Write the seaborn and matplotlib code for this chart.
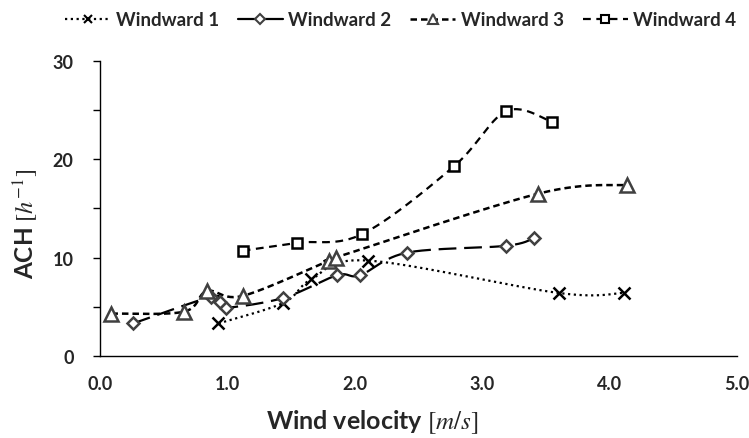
import numpy as np
import pandas as pd
import matplotlib
matplotlib.use("Agg")
import matplotlib.pyplot as plt
from matplotlib.lines import Line2D
from matplotlib.ticker import MultipleLocator
import seaborn as sns

# ---- data ----
w1_x = [0.93, 1.44, 1.66, 2.10, 3.60, 4.11]
w1_y = [3.3, 5.4, 7.8, 9.7, 6.4, 6.4]

w2_x = [0.26, 0.87, 0.94, 0.99, 1.44, 1.86, 2.04, 2.41, 3.19, 3.41]
w2_y = [3.3, 6.0, 5.5, 4.9, 5.9, 8.2, 8.2, 10.5, 11.2, 12.0]

w3_x = [0.09, 0.66, 0.84, 1.12, 1.80, 1.85, 3.44, 4.14]
w3_y = [4.3, 4.5, 6.6, 6.1, 9.7, 10.0, 16.5, 17.4]

w4_x = [1.12, 1.55, 2.06, 2.78, 3.19, 3.55]
w4_y = [10.7, 11.5, 12.4, 19.3, 24.9, 23.8]

series_names = ["Windward 1", "Windward 2", "Windward 3", "Windward 4"]
x_ticks = [0.0, 1.0, 2.0, 3.0, 4.0, 5.0]
y_ticks = [0, 10, 20, 30]

sns.set_theme(style="white")
plt.rcParams['font.family'] = ['Lato', 'DejaVu Sans']
plt.rcParams['mathtext.fontset'] = 'stix'


def smooth(xs, ys, n=30):
    """Excel-style smoothed line (cubic Bezier / Catmull-Rom) through points."""
    P = np.column_stack([xs, ys]).astype(float)
    m = len(P)
    out = []
    for i in range(m - 1):
        p0 = P[i - 1] if i > 0 else P[i]
        p1 = P[i]
        p2 = P[i + 1]
        p3 = P[i + 2] if i + 2 < m else P[i + 1]
        c1 = p1 + (p2 - p0) / 6.0
        c2 = p2 - (p3 - p1) / 6.0
        t = np.linspace(0, 1, n)[:, None]
        seg = ((1 - t) ** 3) * p1 + 3 * ((1 - t) ** 2) * t * c1 + 3 * (1 - t) * t ** 2 * c2 + t ** 3 * p2
        out.append(seg if i == 0 else seg[1:])
    s = np.vstack(out)
    return s[:, 0], s[:, 1]


fig, ax = plt.subplots(figsize=(7.49, 4.39), dpi=100)
fig.subplots_adjust(left=0.1335, right=0.984, bottom=0.187, top=0.859)

mk_edge = "#404040"
styles = [
    dict(x=w1_x, y=w1_y, ls=(0, (1, 1.6)), marker="x", ms=8, mec="black", lw=1.6),
    dict(x=w2_x, y=w2_y, ls=(0, (8, 3.5)), marker="D", ms=6.5, mec=mk_edge, lw=1.6),
    dict(x=w3_x, y=w3_y, ls=(0, (2.6, 1.6)), marker="^", ms=9.5, mec=mk_edge, lw=1.8),
    dict(x=w4_x, y=w4_y, ls=(0, (3.5, 2.5)), marker="s", ms=7, mec="black", lw=1.6),
]

handles = []
for name, st in zip(series_names, styles):
    sx, sy = smooth(st["x"], st["y"])
    df = pd.DataFrame({"x": sx, "y": sy})
    sns.lineplot(data=df, x="x", y="y", ax=ax, sort=False, color="black",
                 linewidth=st["lw"], linestyle=st["ls"], estimator=None, zorder=2)
    pts = pd.DataFrame({"x": st["x"], "y": st["y"]})
    ax.plot(pts["x"], pts["y"], linestyle="none", marker=st["marker"], ms=st["ms"],
            mfc="white" if st["marker"] != "x" else "black", mec=st["mec"], mew=1.8, zorder=3)
    leg_ls = "-" if name == "Windward 2" else st["ls"]
    handles.append(Line2D([0], [0], color="black", lw=st["lw"], linestyle=leg_ls,
                          marker=st["marker"], ms=st["ms"] * 0.8, mfc="white",
                          mec=st["mec"], mew=1.5, label=name))

ax.set_xlim(0, 5)
ax.set_ylim(0, 30)
ax.set_xticks(x_ticks)
ax.set_xticklabels([f"{v:.1f}" for v in x_ticks])
ax.set_yticks(y_ticks)
ax.set_yticklabels([str(v) for v in y_ticks])
ax.xaxis.set_minor_locator(MultipleLocator(0.2))
ax.yaxis.set_minor_locator(MultipleLocator(5))

for s in ["top", "right"]:
    ax.spines[s].set_visible(False)
for s in ["left", "bottom"]:
    ax.spines[s].set_color("black")
    ax.spines[s].set_linewidth(1.0)

ax.tick_params(axis="x", which="major", direction="in", length=6, width=1, color="black",
               labelsize=13, pad=14)
ax.tick_params(axis="x", which="minor", direction="in", length=4, width=1, color="black")
ax.tick_params(axis="y", which="major", direction="out", length=5, width=1, color="black",
               labelsize=13, pad=14, left=True)
ax.tick_params(axis="y", which="minor", direction="out", length=5, width=1, color="black", left=True)
for lab in ax.get_xticklabels() + ax.get_yticklabels():
    lab.set_fontweight("bold")

ax.set_xlabel(r"Wind velocity $[m/s]$", fontsize=18, fontweight="bold")
ax.set_ylabel(r"ACH $[h^{-1}]$", fontsize=17.5, fontweight="bold")
ax.xaxis.set_label_coords(0.427, -0.175)
ax.yaxis.set_label_coords(-0.092, 0.45)
ax.grid(False)

fig.legend(handles=handles, loc="upper center", bbox_to_anchor=(0.535, 1.01), ncol=4,
           frameon=False, handlelength=2.4, handletextpad=0.3, columnspacing=1.0,
           prop={"weight": "bold", "size": 13.5})

fig.savefig("out.png", dpi=100)
